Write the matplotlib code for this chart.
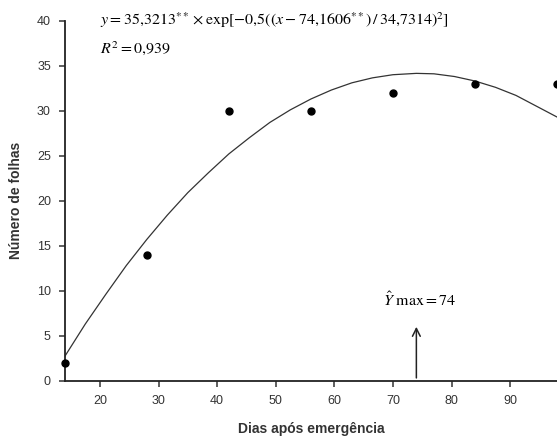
import matplotlib
matplotlib.use("Agg")
import matplotlib.pyplot as plt

# observed data
dias = [14, 28, 42, 56, 70, 84, 98]
folhas = [2, 14, 30, 30, 32, 33, 33]

# fitted curve
curva_x = [14, 17.5, 21, 24.5, 28, 31.5, 35, 38.5, 42, 45.5, 49, 52.5, 56,
           59.5, 63, 66.5, 70, 74, 77, 80.5, 84, 87.5, 91, 94.5, 98]
curva_y = [2.7, 6.3, 9.6, 12.8, 15.7, 18.4, 20.9, 23.1, 25.2, 27.0, 28.7, 30.1, 31.3,
           32.3, 33.1, 33.65, 34.0, 34.15, 34.1, 33.8, 33.3, 32.6, 31.7, 30.5, 29.3]

x_ticks = [20, 30, 40, 50, 60, 70, 80, 90]
y_ticks = [0, 5, 10, 15, 20, 25, 30, 35, 40]
y_max_x = 74

plt.rcParams['font.family'] = ['Liberation Sans', 'DejaVu Sans']
plt.rcParams['mathtext.fontset'] = 'stix'

fig = plt.figure(figsize=(5.57, 4.37), dpi=100)
ax = fig.add_axes([0.1163, 0.1288, 0.8837, 0.8238])

ax.plot(curva_x, curva_y, color='#333333', lw=0.9, zorder=2)
ax.plot(dias, folhas, 'o', color='black', ms=5, zorder=3, clip_on=False)

ax.set_xlim(14, 98)
ax.set_ylim(0, 40)
ax.set_xticks(x_ticks)
ax.set_yticks(y_ticks)

for s in ['top', 'right']:
    ax.spines[s].set_visible(False)
for s in ['left', 'bottom']:
    ax.spines[s].set_linewidth(1.3)
    ax.spines[s].set_color('#222222')

ax.tick_params(direction='out', length=4, width=1.1, pad=6,
               labelsize=9, colors='#333333')

ax.set_ylabel('Número de folhas', fontsize=10, fontweight='bold',
              color='#333333', labelpad=10)
ax.set_xlabel('Dias após emergência', fontsize=10, fontweight='bold',
              color='#333333', labelpad=11)

eq = (r"$y = 35{,}3213^{**}\times\mathrm{exp}[-0{,}5((x - 74{,}1606^{**})"
      r"\,/\,34{,}7314)^2]$")
ax.text(20, 39.5, eq, fontsize=11.5, ha='left', va='baseline')
ax.text(20, 36.4, r"$R^2 = 0{,}939$", fontsize=11.5, ha='left', va='baseline')

ax.annotate('', xy=(y_max_x, 6.3), xytext=(y_max_x, 0),
            arrowprops=dict(arrowstyle='->', color='#222222', lw=1.1,
                            mutation_scale=14))
ax.text(74.5, 8.3, r"$\hat{Y}\ \mathrm{max} = 74$", fontsize=11.5,
        ha='center', va='baseline')

fig.savefig('out.png', dpi=100)
